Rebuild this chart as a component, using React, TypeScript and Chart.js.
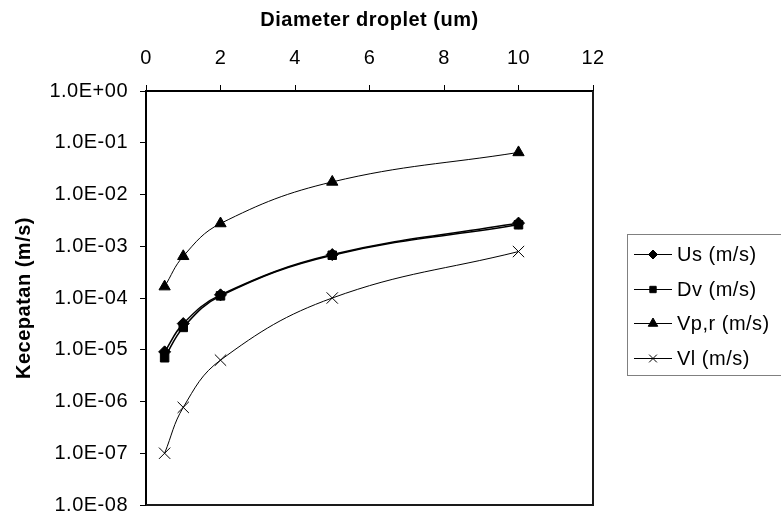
import React, { useEffect, useRef } from "react";
import { Chart, registerables } from "chart.js";
import { drawPoint } from "chart.js/helpers";

Chart.register(...registerables);

// ---- data ----
const diameters = [0.5, 1, 2, 5, 10];
const usValues = [9.1e-6, 3.2e-5, 1.15e-4, 6.9e-4, 2.8e-3];
const dvValues = [7.0e-6, 2.7e-5, 1.1e-4, 6.7e-4, 2.6e-3];
const vprValues = [1.66e-4, 6.4e-4, 2.75e-3, 1.75e-2, 6.5e-2];
const vlValues = [1.0e-7, 7.7e-7, 6.3e-6, 1.0e-4, 7.9e-4];
const seriesLabels = ["Us (m/s)", "Dv (m/s)", "Vp,r (m/s)", "Vl (m/s)"];
const seriesMarkers = ["rectRot", "rect", "triangle", "crossRot"];
const xTitle = "Diameter droplet (um)";
const yTitle = "Kecepatan (m/s)";
const xMin = 0;
const xMax = 12;
const xStep = 2;
const yTickValues = [1e-8, 1e-7, 1e-6, 1e-5, 1e-4, 1e-3, 1e-2, 1e-1, 1e0];

const FONT = "'Liberation Sans', Arial, Helvetica, sans-serif";
const SPACING = "0.5px";
const FS = 20;

function formatSci(v: number): string {
  const [mant, expStr] = v.toExponential(1).split("e");
  const e = parseInt(expStr, 10);
  const sign = e < 0 ? "-" : "+";
  return `${mant.toUpperCase()}E${sign}${String(Math.abs(e)).padStart(2, "0")}`;
}

const spacingPlugin = {
  id: "spacing",
  beforeUpdate(chart: any) {
    chart.ctx.letterSpacing = SPACING;
  },
  beforeLayout(chart: any) {
    chart.ctx.letterSpacing = SPACING;
  },
  beforeDraw(chart: any) {
    chart.ctx.letterSpacing = SPACING;
  },
};

const frameLegendPlugin = {
  id: "frameLegend",
  afterDraw(chart: any) {
    const ctx = chart.ctx;
    const { right, bottom, top, left } = chart.chartArea;
    ctx.save();
    ctx.strokeStyle = "#1a1a1a";
    ctx.lineWidth = 2;
    ctx.beginPath();
    ctx.moveTo(left, bottom);
    ctx.lineTo(right, bottom);
    ctx.lineTo(right, top);
    ctx.stroke();

    const boxLeft = 627.5;
    const boxTop = 234.5;
    const boxH = 141;
    ctx.strokeStyle = "#808080";
    ctx.lineWidth = 1;
    ctx.strokeRect(boxLeft, boxTop, 200, boxH);

    const rowH = 34.7;
    const sizes = [4.5, 4.5, 5.5, 5.5];
    chart.data.datasets.forEach((ds: any, i: number) => {
      const y = Math.round(boxTop + 19.5 + i * rowH) + 0.5;
      ctx.strokeStyle = "#000";
      ctx.lineWidth = 1;
      ctx.beginPath();
      ctx.moveTo(634, y);
      ctx.lineTo(672, y);
      ctx.stroke();
      ctx.fillStyle = "#000";
      ctx.strokeStyle = "#000";
      ctx.lineWidth = 1;
      drawPoint(ctx, { pointStyle: ds.pointStyle, radius: sizes[i], borderWidth: 1, rotation: 0 }, 653, y);
      ctx.fillStyle = "#000";
      ctx.font = `${FS}px ${FONT}`;
      ctx.letterSpacing = SPACING;
      ctx.textAlign = "left";
      ctx.textBaseline = "middle";
      ctx.fillText(ds.label, 677, y + 1);
    });
    ctx.restore();
  },
};

export default function App() {
  const canvasRef = useRef<HTMLCanvasElement | null>(null);

  useEffect(() => {
    if (!canvasRef.current) return;
    const values = [usValues, dvValues, vprValues, vlValues];
    const radii = [6, 6, 6.5, 8];
    const lineWidths = [1.5, 1.5, 1, 1];
    const chart = new Chart(canvasRef.current, {
      type: "line",
      data: {
        datasets: seriesLabels.map((label, i) => ({
          label,
          data: diameters.map((d, j) => ({ x: d, y: values[i][j] })),
          borderColor: "#000",
          backgroundColor: "#000",
          borderWidth: lineWidths[i],
          pointStyle: seriesMarkers[i] as any,
          pointRadius: radii[i],
          pointBorderWidth: 1,
          pointBackgroundColor: "#000",
          pointBorderColor: "#000",
          tension: 0.4,
          fill: false,
        })),
      },
      options: {
        responsive: false,
        animation: false,
        devicePixelRatio: 1,
        layout: { padding: { left: 0, top: 0, right: 188, bottom: 11 } },
        plugins: {
          legend: { display: false },
          tooltip: { enabled: false },
        },
        scales: {
          x: {
            type: "linear",
            position: "top",
            min: xMin,
            max: xMax,
            ticks: {
              stepSize: xStep,
              color: "#000",
              font: { family: FONT, size: FS },
              padding: 14.5,
              maxRotation: 0,
            },
            grid: {
              drawOnChartArea: false,
              drawTicks: true,
              tickLength: 6,
              color: "#000",
              lineWidth: 1,
            },
            border: { display: true, color: "#000", width: 2 },
            title: {
              display: true,
              text: xTitle,
              color: "#000",
              font: { family: FONT, size: FS, weight: "bold" },
              padding: { top: 8, bottom: 0 },
            },
            afterFit: (s: any) => {
              s.height = 91;
            },
          },
          y: {
            type: "logarithmic",
            position: "left",
            min: yTickValues[0],
            max: yTickValues[yTickValues.length - 1],
            afterBuildTicks: (s: any) => {
              s.ticks = yTickValues.map((v) => ({ value: v }));
            },
            ticks: {
              color: "#000",
              font: { family: FONT, size: FS },
              padding: 12,
              autoSkip: false,
              callback: (v: any) => formatSci(Number(v)),
            },
            grid: {
              drawOnChartArea: false,
              drawTicks: true,
              tickLength: 6,
              color: "#000",
              lineWidth: 1,
            },
            border: { display: true, color: "#000", width: 2 },
            title: {
              display: true,
              text: yTitle,
              color: "#000",
              font: { family: FONT, size: FS, weight: "bold" },
              padding: { top: 12, bottom: 0 },
            },
            afterFit: (s: any) => {
              s.width = 146;
            },
          },
        },
      },
      plugins: [spacingPlugin, frameLegendPlugin],
    });
    return () => chart.destroy();
  }, []);

  return (
    <div style={{ position: "fixed", left: 0, top: 0, width: 781, height: 529, background: "#fff" }}>
      <canvas ref={canvasRef} width={781} height={529} style={{ width: 781, height: 529, display: "block" }} />
    </div>
  );
}
